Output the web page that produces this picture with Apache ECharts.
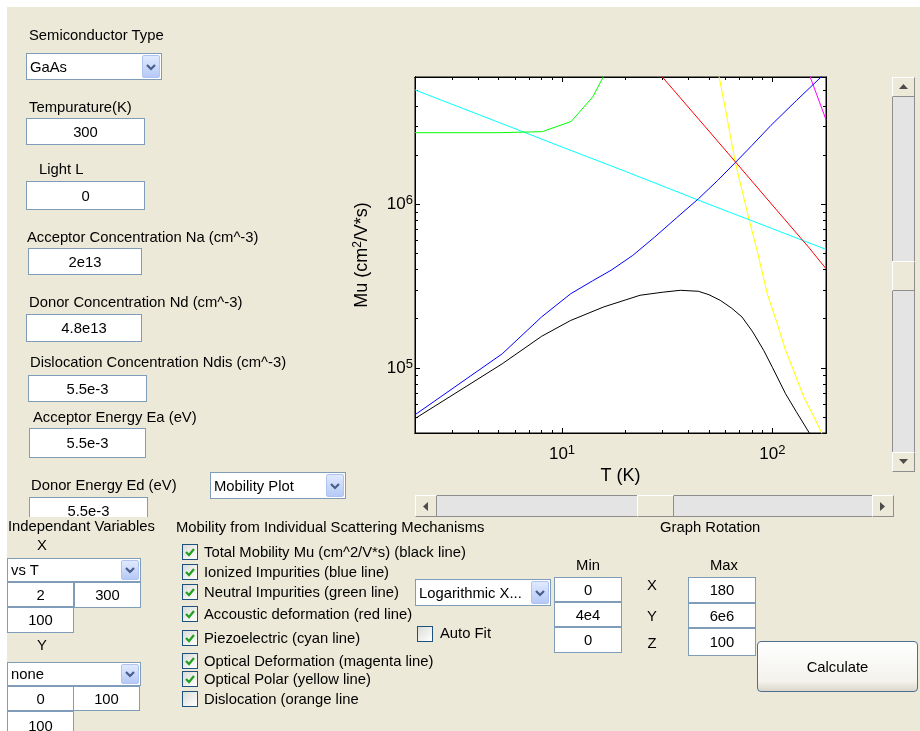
<!DOCTYPE html>
<html><head><meta charset="utf-8">
<script src="https://cdn.jsdelivr.net/npm/echarts@6/dist/echarts.min.js"></script>
<style>
html,body{margin:0;padding:0;background:#fff;width:920px;height:731px;overflow:hidden;}
#panel{position:absolute;left:7px;top:7px;width:913px;height:724px;background:#ECE9D8;}
#chart{position:absolute;left:0;top:0;width:920px;height:731px;z-index:1;}
#ui{position:absolute;left:0;top:0;width:920px;height:731px;z-index:2;pointer-events:none;font-family:'Liberation Sans',Arial,sans-serif;font-size:14.8px;color:#000;}
.l{position:absolute;white-space:nowrap;line-height:18px;height:18px;}
.b{position:absolute;box-sizing:border-box;background:#fff;border:1px solid #7F9DB9;display:flex;align-items:center;justify-content:center;white-space:nowrap;overflow:hidden;}
.d{justify-content:flex-start;padding-left:3px;}
.arr{position:absolute;right:1px;top:1px;bottom:1px;width:18px;border-radius:2px;background:linear-gradient(#E0E9FE,#B6CAF7);border:1px solid #B0C4F2;box-sizing:border-box;display:flex;align-items:center;justify-content:center;}
.cb{position:absolute;width:16px;height:16px;box-sizing:border-box;border:1px solid #1C5180;background:linear-gradient(135deg,#DCDCD6,#FFFFFF);display:flex;align-items:center;justify-content:center;}
.sb{position:absolute;box-sizing:border-box;background:#E4E4E4;border-left:1px solid #8E8E8E;border-right:1px solid #8E8E8E;}
.sbh{border-left:none;border-right:none;border-top:1px solid #8E8E8E;border-bottom:1px solid #8E8E8E;}
.btn{position:absolute;box-sizing:border-box;background:#ECE9D8;border:1px solid;border-color:#FFFFFF #8E8E8E #8E8E8E #FFFFFF;display:flex;align-items:center;justify-content:center;}
.calc{position:absolute;box-sizing:border-box;border:1px solid #4F6E92;border-radius:4px;background:linear-gradient(#FFFFFF,#F3F2EC 80%,#DCD7CB);display:flex;align-items:center;justify-content:center;}
</style></head>
<body>
<div id="panel"></div>
<div id="chart"></div>
<div id="ui"></div>
<script>
// ---------------- data ----------------
const T_total  = [2, 5.2, 8, 11, 15.8, 20, 23.5, 30, 36.5, 44.5, 50, 56.5, 64, 71.7, 80.7, 91, 100, 115.6, 130, 150, 180];
const MU_total = [4.9e4, 1.06e5, 1.56e5, 1.95e5, 2.36e5, 2.6e5, 2.78e5, 2.9e5, 2.98e5, 2.94e5, 2.8e5, 2.59e5, 2.32e5, 2.05e5, 1.66e5, 1.28e5, 1.01e5, 6.95e4, 5.4e4, 4.0e4, 2.7e4];
const T_ion    = [2, 5.2, 8, 11, 14, 17.1, 21.7, 27.6, 35.1, 44.5, 55, 66.7, 80, 98.6, 130, 170.6, 185];
const MU_ion   = [5.17e4, 1.22e5, 2.05e5, 2.84e5, 3.41e5, 3.95e5, 4.87e5, 6.31e5, 8.28e5, 1.08e6, 1.4e6, 1.8e6, 2.29e6, 3.04e6, 4.3e6, 6.0e6, 6.7e6];
const T_neu    = [2, 5, 8.05, 11.06, 14.0, 15.7, 17];
const MU_neu   = [2.74e6, 2.74e6, 2.78e6, 3.21e6, 4.53e6, 6.0e6, 7.5e6];
const T_ac     = [25, 30, 50, 66.7, 100, 150, 180];
const MU_ac    = [7.9e6, 6.0e6, 2.8e6, 1.82e6, 9.9e5, 5.4e5, 4.04e5];
const T_pz     = [2, 5, 10, 20, 50, 100, 180];
const MU_pz    = [5.0e6, 3.17e6, 2.24e6, 1.59e6, 1.0e6, 7.1e5, 5.3e5];
const T_od     = [145, 151.4, 180];
const MU_od    = [7.0e6, 6.0e6, 3.29e6];
const T_op     = [52, 55.9, 60, 66.7, 77.7, 85, 94.6, 105, 115.6, 128, 141, 155, 171.8, 185];
const MU_op    = [9.5e6, 6.0e6, 3.75e6, 1.8e6, 7.98e5, 5.1e5, 2.84e5, 1.9e5, 1.28e5, 9.2e4, 6.64e4, 5.25e4, 4.0e4, 3.4e4];

const xRange = [2, 180];
const yRange = [4e4, 6e6];
const xMajor = [10, 100];
const xMinor = [3, 4, 5, 6, 7, 8, 9, 20, 30, 40, 50, 60, 70, 80, 90];
const yMajor = [1e5, 1e6];
const yMinor = [5e4, 6e4, 7e4, 8e4, 9e4, 2e5, 3e5, 4e5, 5e5, 6e5, 7e5, 8e5, 9e5, 2e6, 3e6, 4e6, 5e6];
const xTitle = 'T (K)';
const yTitle = 'Mu (cm{sup|2}/V*s)';

// ---------------- chart ----------------
const pairs = (t, m) => t.map((v, i) => [v, m[i]]);
const seriesDefs = [
  ['Optical Polar', T_op, MU_op, '#FFFF00'],
  ['Optical Deformation', T_od, MU_od, '#FF00FF'],
  ['Piezoelectric', T_pz, MU_pz, '#00FFFF'],
  ['Accoustic deformation', T_ac, MU_ac, '#FF0000'],
  ['Neutral Impurities', T_neu, MU_neu, '#00FF00'],
  ['Ionized Impurities', T_ion, MU_ion, '#0000FF'],
  ['Total Mobility', T_total, MU_total, '#000000']
];
const FONT = 'Liberation Sans';
const supFmt = v => '{b|10}{s|' + Math.round(Math.log10(v)) + '}';
const rich = {
  b: {fontSize: 17, fontFamily: FONT, color: '#000'},
  s: {fontSize: 13, fontFamily: FONT, color: '#000', padding: [0, 0, 7, 0]}
};
const G = {left: 415, top: 77, width: 411, height: 356};
function ax(kind, grid, pos, ticks, len, labels, extra) {
  const o = {
    type: 'log', logBase: 10, gridIndex: grid, position: pos,
    min: kind === 'x' ? xRange[0] : yRange[0], max: kind === 'x' ? xRange[1] : yRange[1],
    axisLine: {show: true, onZero: false, lineStyle: {color: '#000', width: 1}},
    axisTick: {show: true, inside: true, length: len, customValues: ticks, lineStyle: {color: '#000', width: 1}},
    axisLabel: labels ? {show: true, customValues: labels, formatter: supFmt, rich: rich, margin: kind === 'x' ? 11 : 2, color: '#000'} : {show: false},
    splitLine: {show: false}, minorTick: {show: false}
  };
  return Object.assign(o, extra || {});
}
const chart = echarts.init(document.getElementById('chart'), null, {renderer: 'canvas'});
chart.setOption({
  animation: false,
  backgroundColor: 'transparent',
  grid: [
    Object.assign({show: true, backgroundColor: '#fff', borderColor: '#000', borderWidth: 1}, G),
    Object.assign({show: false}, G)
  ],
  xAxis: [
    ax('x', 0, 'bottom', xMajor, 5, xMajor, {name: xTitle, nameLocation: 'middle', nameGap: 34,
      nameTextStyle: {fontSize: 18, fontFamily: FONT, color: '#000'}}),
    ax('x', 0, 'top', xMajor, 5, null),
    ax('x', 1, 'bottom', xMinor, 3, null),
    ax('x', 1, 'top', xMinor, 3, null)
  ],
  yAxis: [
    ax('y', 0, 'left', yMajor, 5, yMajor, {name: yTitle, nameLocation: 'middle', nameGap: 43, nameRotate: 90,
      nameTextStyle: {fontSize: 18, fontFamily: FONT, color: '#000', rich: {sup: {fontSize: 12, fontFamily: FONT, color: '#000', padding: [0, 0, 8, 0]}}}}),
    ax('y', 0, 'right', yMajor, 5, null),
    ax('y', 1, 'left', yMinor, 3, null),
    ax('y', 1, 'right', yMinor, 3, null)
  ],
  series: seriesDefs.map(d => ({
    name: d[0], type: 'line', xAxisIndex: 0, yAxisIndex: 0,
    data: pairs(d[1], d[2]), showSymbol: false, smooth: false,
    lineStyle: {color: d[3], width: 1}, itemStyle: {color: d[3]}, clip: true
  }))
});

// ---------------- GUI controls ----------------
const ui = document.getElementById('ui');
function el(cls, css, html) {
  const e = document.createElement('div'); e.className = cls; e.style.cssText = css; if (html != null) e.innerHTML = html; ui.appendChild(e); return e;
}
const lbl = (x, cy, t) => el('l', `left:${x}px;top:${cy - 9}px;`, t);
const clbl = (cx, cy, t) => el('l', `left:${cx - 50}px;width:100px;text-align:center;top:${cy - 9}px;`, t);
const box = (x1, y1, x2, y2, t) => el('b', `left:${x1}px;top:${y1}px;width:${x2 - x1}px;height:${y2 - y1}px;`, t);
const chev = '<svg width="12" height="10"><polyline points="2,3 6,7 10,3" stroke="#4A5E8C" stroke-width="2.2" fill="none"/></svg>';
const dd = (x1, y1, x2, y2, t) => el('b d', `left:${x1}px;top:${y1}px;width:${x2 - x1}px;height:${y2 - y1}px;`, t + '<div class="arr">' + chev + '</div>');
const tick = '<svg width="12" height="12"><polyline points="2,6 5,9 10,3" stroke="#21A121" stroke-width="2.2" fill="none"/></svg>';
const cb = (x, cy, on) => el('cb', `left:${x}px;top:${cy - 8}px;`, on ? tick : '');

lbl(29, 35, 'Semiconductor Type');
dd(26, 53, 162, 80, 'GaAs');
lbl(29, 107, 'Tempurature(K)');
box(26, 118, 145, 145, '300');
lbl(39, 169, 'Light L');
box(26, 181, 145, 210, '0');
lbl(27, 237, 'Acceptor Concentration Na (cm^-3)');
box(28, 248, 142, 275, '2e13');
lbl(29, 302, 'Donor Concentration Nd (cm^-3)');
box(26, 314, 142, 342, '4.8e13');
lbl(30, 362, 'Dislocation Concentration Ndis (cm^-3)');
box(28, 375, 147, 402, '5.5e-3');
lbl(33, 417, 'Acceptor Energy Ea (eV)');
box(29, 428, 146, 458, '5.5e-3');
lbl(31, 485, 'Donor Energy Ed (eV)');
const clip = el('', 'position:absolute;left:29px;top:497px;width:120px;height:20px;overflow:hidden;');
clip.innerHTML = '<div class="b" style="left:0;top:0;width:119px;height:28px;align-items:flex-start;padding-top:5px;">5.5e-3</div>';
dd(210, 472, 346, 499, 'Mobility Plot');

lbl(8, 526, 'Independant Variables');
clbl(42, 545, 'X');
dd(7, 558, 141, 582, 'vs T');
box(7, 582, 74, 607, '2');
box(74, 582, 141, 608, '300');
box(7, 607, 74, 633, '100');
clbl(42, 645, 'Y');
dd(7, 662, 141, 686, 'none');
box(7, 686, 74, 711, '0');
box(73, 686, 140, 711, '100');
box(7, 711, 74, 740, '100');

lbl(176, 527, 'Mobility from Individual Scattering Mechanisms');
const cbRows = [
  [552, 'Total Mobility Mu (cm^2/V*s) (black line)', true],
  [572, 'Ionized Impurities (blue line)', true],
  [592, 'Neutral Impurities (green line)', true],
  [614, 'Accoustic deformation (red line)', true],
  [638, 'Piezoelectric (cyan line)', true],
  [661, 'Optical Deformation (magenta line)', true],
  [679, 'Optical Polar (yellow line)', true],
  [699, 'Dislocation (orange line', false]
];
cbRows.forEach(r => { cb(182, r[0], r[2]); lbl(204, r[0], r[1]); });

dd(415, 579, 551, 606, 'Logarithmic X...');
cb(417, 634, false); lbl(440, 633, 'Auto Fit');
lbl(660, 527, 'Graph Rotation');
clbl(588, 565, 'Min'); clbl(724, 565, 'Max');
box(554, 577, 622, 602, '0'); box(554, 602, 622, 627, '4e4'); box(554, 627, 622, 653, '0');
clbl(652, 585, 'X'); clbl(652, 616, 'Y'); clbl(652, 643, 'Z');
box(688, 577, 756, 603, '180'); box(688, 603, 756, 628, '6e6'); box(688, 628, 756, 656, '100');
el('calc', 'left:757px;top:641px;width:161px;height:51px;', 'Calculate');

// scrollbars
const triU = '<svg width="9" height="6"><polygon points="0,5 9,5 4.5,0" fill="#4D4D4D"/></svg>';
const triD = '<svg width="9" height="6"><polygon points="0,0 9,0 4.5,5" fill="#4D4D4D"/></svg>';
const triL = '<svg width="6" height="9"><polygon points="5,0 5,9 0,4.5" fill="#4D4D4D"/></svg>';
const triR = '<svg width="6" height="9"><polygon points="0,0 0,9 5,4.5" fill="#4D4D4D"/></svg>';
el('sb', 'left:892px;top:77px;width:23px;height:395px;');
el('btn', 'left:892px;top:77px;width:23px;height:20px;', triU);
el('btn', 'left:892px;top:452px;width:23px;height:20px;', triD);
el('btn', 'left:892px;top:261px;width:23px;height:30px;');
el('sb sbh', 'left:415px;top:495px;width:479px;height:22px;');
el('btn', 'left:415px;top:495px;width:22px;height:22px;', triL);
el('btn', 'left:872px;top:495px;width:22px;height:22px;', triR);
el('btn', 'left:637px;top:495px;width:37px;height:22px;');
</script>
</body></html>
